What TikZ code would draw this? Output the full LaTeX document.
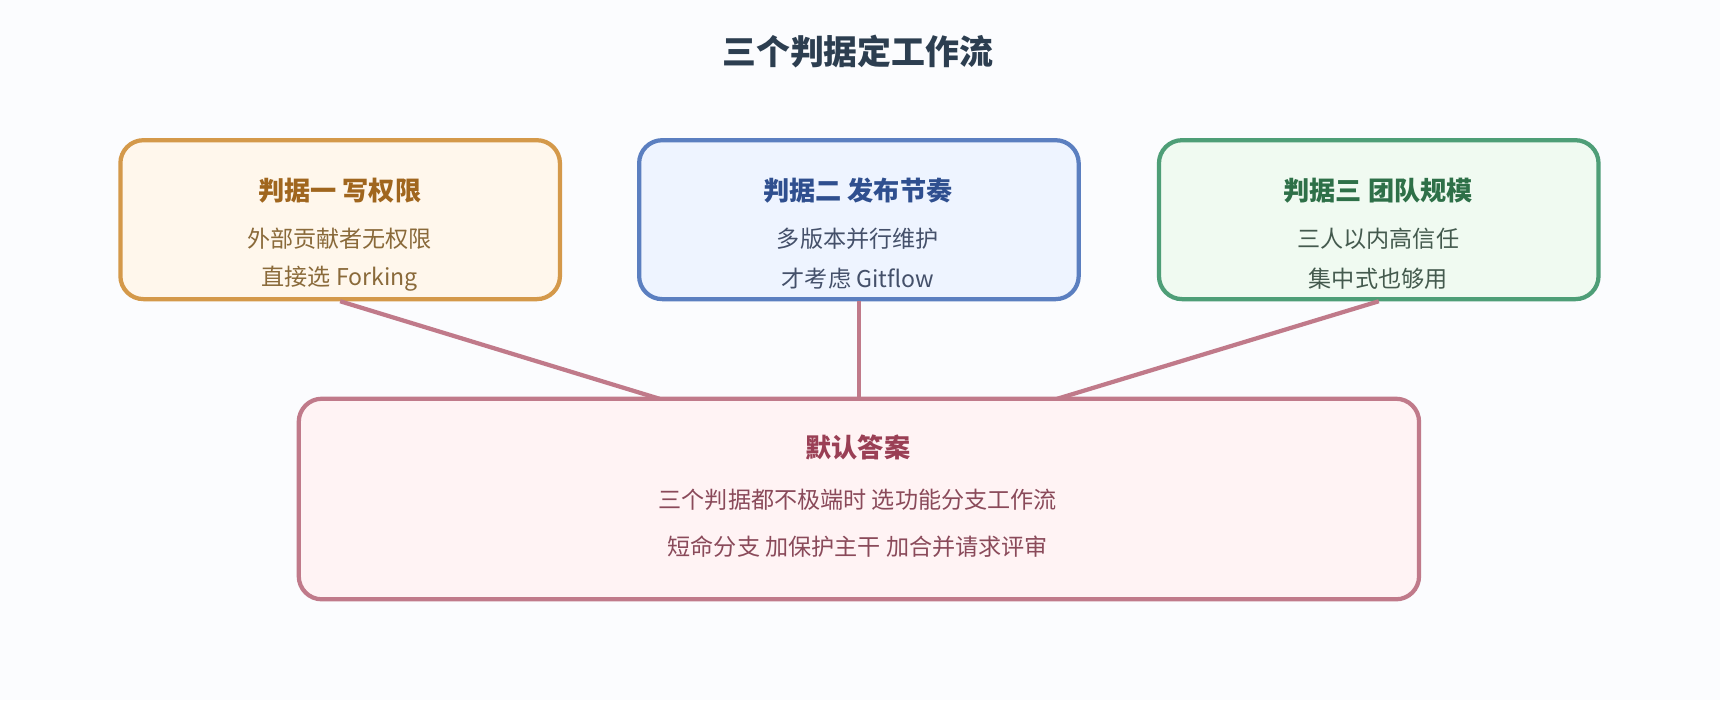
\documentclass[tikz,border=0pt]{standalone}
\usepackage{fontspec}
\setmainfont{Noto Sans CJK SC}
\definecolor{bg}{HTML}{FBFCFE}
\definecolor{fa}{HTML}{FFF7EC}\definecolor{da}{HTML}{D4994A}\definecolor{ta}{HTML}{A0661E}\definecolor{xa}{HTML}{8A6A3A}
\definecolor{fb}{HTML}{EEF4FF}\definecolor{db}{HTML}{5B7FC0}\definecolor{tb}{HTML}{2F4F8F}\definecolor{xb}{HTML}{44506A}
\definecolor{fc}{HTML}{F0FAF1}\definecolor{dc}{HTML}{4E9E77}\definecolor{tc}{HTML}{2E7048}\definecolor{xc}{HTML}{445A4E}
\definecolor{fd}{HTML}{FFF3F4}\definecolor{dd}{HTML}{C07A8A}\definecolor{td}{HTML}{9A3F55}\definecolor{xd}{HTML}{8A4A5A}
\definecolor{tt}{HTML}{2C3E50}
\begin{document}
\begin{tikzpicture}[x=0.01cm,y=-0.01cm,
 box/.style={draw=#1,line width=1.1pt,rounded corners=6pt,inner sep=0,minimum width=4.01cm,minimum height=1.45cm},
 ttl/.style={font=\fontsize{6.8}{8}\selectfont\bfseries},
 txt/.style={font=\fontsize{6}{7}\selectfont},
 conn/.style={draw=dd,line width=1.1pt}]
\fill[bg] (0,0) rectangle (1570,639);
\useasboundingbox (0,0) rectangle (1570,639);
\node[font=\fontsize{8.8}{10}\selectfont\bfseries,text=tt] (title) at (783,47) {三个判据定工作流};
\node[box=da,fill=fa] (a) at (310.5,200.5) {};
\node[box=db,fill=fb] (b) at (784,200.5) {};
\node[box=dc,fill=fc] (c) at (1258.5,200.5) {};
\node[box=dd,fill=fd,minimum width=10.22cm,minimum height=1.83cm] (d) at (784,455.5) {};
\coordinate (da) at (602,364); \coordinate (dc) at (965,364);
\draw[conn] (a.south)--(da); \draw[conn] (b.south)--(d.north); \draw[conn] (c.south)--(dc);
\node[ttl,text=ta] (t1) at (310,174) {判据一 写权限};
\node[txt,text=xa] (l1a) at (310,218) {外部贡献者无权限};
\node[txt,text=xa] (l1b) at (310,254) {直接选 Forking};
\node[ttl,text=tb] (t2) at (783,174) {判据二 发布节奏};
\node[txt,text=xb] (l2a) at (783,218) {多版本并行维护};
\node[txt,text=xb] (l2b) at (783,254) {才考虑 Gitflow};
\node[ttl,text=tc] (t3) at (1258,174) {判据三 团队规模};
\node[txt,text=xc] (l3a) at (1258,218) {三人以内高信任};
\node[txt,text=xc] (l3b) at (1258,254) {集中式也够用};
\node[ttl,text=td] (t4) at (783,408) {默认答案};
\node[txt,text=xd] (l4a) at (783,456) {三个判据都不极端时 选功能分支工作流};
\node[txt,text=xd] (l4b) at (783,499) {短命分支 加保护主干 加合并请求评审};
\end{tikzpicture}
\end{document}
